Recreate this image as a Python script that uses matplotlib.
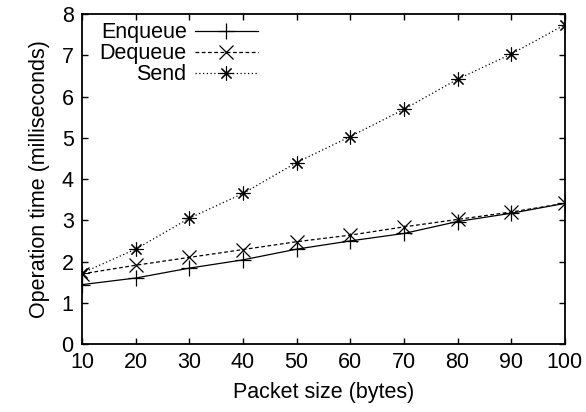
import matplotlib
matplotlib.use("Agg")
import matplotlib.pyplot as plt

plt.rcParams['font.family'] = ['Liberation Sans', 'DejaVu Sans']

sizes = [10, 20, 30, 40, 50, 60, 70, 80, 90, 100]
enqueue = [1.44, 1.60, 1.84, 2.04, 2.30, 2.50, 2.68, 2.97, 3.17, 3.41]
dequeue = [1.70, 1.91, 2.10, 2.29, 2.48, 2.64, 2.84, 3.02, 3.20, 3.41]
send = [1.72, 2.30, 3.05, 3.65, 4.40, 5.03, 5.69, 6.42, 7.03, 7.74]
xticks = [10, 20, 30, 40, 50, 60, 70, 80, 90, 100]
yticks = [0, 1, 2, 3, 4, 5, 6, 7, 8]

fig = plt.figure(figsize=(5.86, 4.12), dpi=100)
ax = fig.add_axes([0.14, 0.165, 0.824, 0.801])

fs = 15.5
ax.plot(sizes, enqueue, color='black', lw=0.9, ls='-', marker='+', ms=11, mew=0.9, label='Enqueue')
ax.plot(sizes, dequeue, color='black', lw=0.9, ls=(0, (3, 2)), marker='x', ms=10, mew=0.9, label='Dequeue')
ax.plot(sizes, send, color='black', lw=0.9, ls=(0, (1, 2)), marker=(8, 2, 0), ms=10, mew=0.8, label='Send')

ax.set_xlim(10, 100)
ax.set_ylim(0, 8)
ax.set_xticks(xticks)
ax.set_yticks(yticks)
ax.tick_params(direction='in', length=4.5, width=1.0, top=True, right=True, labelsize=fs, pad=6)
for s in ax.spines.values():
    s.set_linewidth(1.3)
ax.set_xlabel('Packet size (bytes)', fontsize=fs, labelpad=6)
ax.set_ylabel('Operation time (milliseconds)', fontsize=fs, labelpad=8)

leg = ax.legend(loc='upper left', bbox_to_anchor=(0.005, 1.02), frameon=False, markerfirst=False,
                fontsize=fs, handlelength=2.9, handletextpad=0.4, labelspacing=0.0, borderaxespad=0.3)

fig.savefig('out.png', dpi=100)
